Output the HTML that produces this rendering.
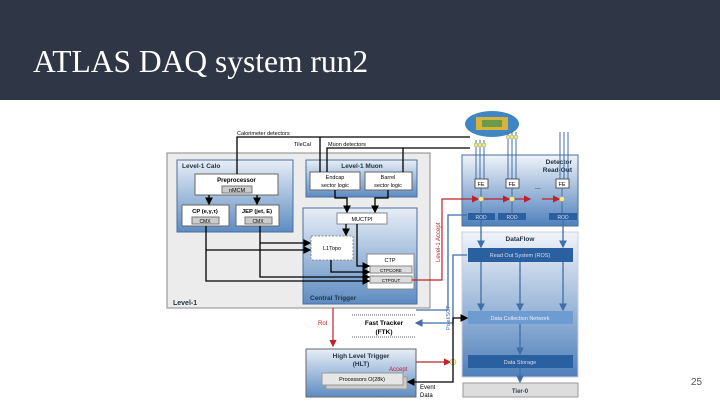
<!DOCTYPE html>
<html><head><meta charset="utf-8"><style>
body{margin:0;width:720px;height:405px;overflow:hidden;background:#fff;font-family:"Liberation Sans",sans-serif}
#hdr{position:absolute;left:0;top:0;width:720px;height:100px;background:#2f3646}
#hdr span{position:absolute;left:33px;top:44px;font-family:"Liberation Serif",serif;font-size:31.5px;color:#fff}
#pg{position:absolute;left:691px;top:377px;font-size:10px;color:#555}
svg{position:absolute;left:0;top:0}
</style></head><body>
<div id="hdr"><span>ATLAS DAQ system run2</span></div>
<svg width="720" height="405" font-family="Liberation Sans, sans-serif">
<defs>
<linearGradient id="bg" x1="0" y1="0" x2="0" y2="1"><stop offset="0" stop-color="#e8eef6"/><stop offset="1" stop-color="#5d8cc2"/></linearGradient>
<linearGradient id="bg2" x1="0" y1="0" x2="0" y2="1"><stop offset="0" stop-color="#f0f4fa"/><stop offset="1" stop-color="#4f80bb"/></linearGradient>
<marker id="a" markerWidth="6" markerHeight="6" refX="5" refY="3" orient="auto"><path d="M0,0L6,3L0,6z" fill="#000"/></marker>
<marker id="r" markerWidth="6" markerHeight="6" refX="5" refY="3" orient="auto"><path d="M0,0L6,3L0,6z" fill="#c0202a"/></marker>
<marker id="b" markerWidth="6" markerHeight="6" refX="5" refY="3" orient="auto"><path d="M0,0L6,3L0,6z" fill="#3f6ea8"/></marker>
</defs>
<rect x="167" y="153" width="263" height="155" fill="#ececec" stroke="#888"/>
<text x="173" y="305" font-size="7" font-weight="bold" fill="#234">Level-1</text>
<rect x="177" y="160" width="116" height="72" fill="url(#bg)" stroke="#4a6f9f"/>
<text x="182" y="168" font-size="6.5" font-weight="bold" fill="#234">Level-1 Calo</text>
<rect x="195" y="174" width="83" height="21" fill="#fff" stroke="#666"/>
<text x="236.5" y="182" font-size="6" font-weight="bold" text-anchor="middle">Preprocessor</text>
<rect x="222" y="186" width="30" height="7" fill="#ccc" stroke="#777"/><text x="237" y="192" font-size="5.5" text-anchor="middle">nMCM</text>
<rect x="182" y="205" width="47" height="21" fill="#fff" stroke="#666"/>
<text x="205" y="213" font-size="5.8" font-weight="bold" text-anchor="middle">CP (e,γ,τ)</text>
<rect x="192" y="217" width="27" height="7" fill="#ccc" stroke="#777"/><text x="205" y="223" font-size="5" text-anchor="middle">CMX</text>
<rect x="236" y="205" width="43" height="21" fill="#fff" stroke="#666"/>
<text x="257" y="213" font-size="5.8" font-weight="bold" text-anchor="middle">JEP (jet, E)</text>
<rect x="245" y="217" width="27" height="7" fill="#ccc" stroke="#777"/><text x="258" y="223" font-size="5" text-anchor="middle">CMX</text>
<rect x="306" y="160" width="111" height="37" fill="url(#bg)" stroke="#4a6f9f"/>
<text x="362" y="168" font-size="6.5" font-weight="bold" fill="#234" text-anchor="middle">Level-1 Muon</text>
<rect x="310" y="172" width="50" height="18" fill="#fff" stroke="#666"/>
<text x="335" y="179" font-size="5.5" text-anchor="middle">Endcap</text><text x="335" y="187" font-size="5.5" text-anchor="middle">sector logic</text>
<rect x="365" y="172" width="47" height="18" fill="#fff" stroke="#666"/>
<text x="388" y="179" font-size="5.5" text-anchor="middle">Barrel</text><text x="388" y="187" font-size="5.5" text-anchor="middle">sector logic</text>
<rect x="303" y="208" width="114" height="96" fill="url(#bg)" stroke="#4a6f9f"/>
<text x="310" y="300" font-size="6.5" font-weight="bold" fill="#234">Central Trigger</text>
<rect x="337" y="213" width="50" height="11" fill="#fff" stroke="#888"/><text x="362" y="221" font-size="5.5" text-anchor="middle">MUCTPI</text>
<rect x="311" y="236" width="42" height="24" fill="#fff" stroke="#888" stroke-dasharray="2,1.5"/><text x="332" y="250" font-size="5.5" text-anchor="middle">L1Topo</text>
<rect x="367" y="254" width="47" height="35" fill="#fff" stroke="#888"/>
<text x="390" y="262" font-size="5.5" text-anchor="middle">CTP</text>
<rect x="370" y="266" width="42" height="7" fill="#ddd" stroke="#888"/><text x="391" y="272" font-size="4.5" text-anchor="middle">CTPCORE</text>
<rect x="370" y="276" width="42" height="7" fill="#ddd" stroke="#888"/><text x="391" y="282" font-size="4.5" text-anchor="middle">CTPOUT</text>
<g stroke="#000" stroke-width="1.3" fill="none">
<path d="M237,174V137H470"/><path d="M320,172V137"/><path d="M327,172V148H470"/><path d="M403,172V148"/>
<path d="M209,195V204" marker-end="url(#a)"/><path d="M257,195V204" marker-end="url(#a)"/>
<path d="M335,190V198H347V212" marker-end="url(#a)"/><path d="M388,190V198H375V212" marker-end="url(#a)"/>
<path d="M346,224V235" marker-end="url(#a)"/><path d="M357,224V266H369" marker-end="url(#a)"/>
<path d="M331,260V272H369" marker-end="url(#a)"/>
<path d="M206,226V281H369" marker-end="url(#a)"/><path d="M206,250H310" marker-end="url(#a)"/>
<path d="M260,226V277H369" marker-end="url(#a)"/><path d="M260,243H310" marker-end="url(#a)"/>
</g>
<text x="237" y="135" font-size="5.5">Calorimeter detectors</text>
<text x="294" y="146" font-size="5.5">TileCal</text>
<text x="328" y="146" font-size="5.5">Muon detectors</text>
<ellipse cx="492" cy="124" rx="27" ry="13" fill="#3f86c4"/>
<rect x="476" y="117" width="32" height="13" fill="#d9b23a"/>
<rect x="482" y="120" width="20" height="7" fill="#6a9b4b"/>
<rect x="462" y="155" width="116" height="71" fill="url(#bg2)" stroke="#4a6f9f"/>
<text x="572" y="164" font-size="6.5" font-weight="bold" fill="#234" text-anchor="end">Detector</text>
<text x="572" y="172" font-size="6.5" font-weight="bold" fill="#234" text-anchor="end">Read-Out</text>
<g stroke="#3f6ea8" stroke-width="1">
<path d="M476,140V179M480,140V179M484,140V179M508,132V179M512,132V179M516,132V179M560,132V179M564,132V179M568,132V179"/>
</g>
<g fill="#fff" stroke="#555"><rect x="475" y="179" width="13" height="9"/><rect x="506" y="179" width="13" height="9"/><rect x="556" y="179" width="13" height="9"/></g>
<g font-size="5.5" text-anchor="middle"><text x="481" y="186">FE</text><text x="512" y="186">FE</text><text x="562" y="186">FE</text></g>
<text x="535" y="189" font-size="7">...</text>
<g stroke="#3f6ea8"><path d="M481,188V213M512,188V213M562,188V213"/></g>
<g fill="#2a5fa0"><rect x="468" y="213" width="27" height="7"/><rect x="498" y="213" width="28" height="7"/><rect x="549" y="213" width="28" height="7"/></g>
<g font-size="5" fill="#dde" text-anchor="middle"><text x="481" y="219">ROD</text><text x="512" y="219">ROD</text><text x="563" y="219">ROD</text></g>
<rect x="462" y="232" width="116" height="145" fill="url(#bg2)" stroke="#ccd"/>
<text x="520" y="241" font-size="6.5" font-weight="bold" fill="#234" text-anchor="middle">DataFlow</text>
<rect x="468" y="248" width="105" height="14" fill="#2a5fa0"/><text x="520" y="257" font-size="5.5" fill="#dde" text-anchor="middle">Read Out System (ROS)</text>
<rect x="468" y="311" width="105" height="13" fill="#6e9bd0"/><text x="520" y="320" font-size="5.5" fill="#eef" text-anchor="middle">Data Collection Network</text>
<rect x="468" y="355" width="105" height="13" fill="#2a5fa0"/><text x="520" y="364" font-size="5.5" fill="#dde" text-anchor="middle">Data Storage</text>
<rect x="463" y="383" width="115" height="14" fill="#ddd" stroke="#999"/><text x="520" y="393" font-size="6" font-weight="bold" fill="#345" text-anchor="middle">Tier-0</text>
<g stroke="#3f6ea8" stroke-width="1.3" fill="none">
<path d="M481,220V247" marker-end="url(#b)"/><path d="M563,220V247" marker-end="url(#b)"/>
<path d="M481,262V310" marker-end="url(#b)"/><path d="M520,262V310" marker-end="url(#b)"/><path d="M563,262V310" marker-end="url(#b)"/>
<path d="M520,324V354" marker-end="url(#b)"/><path d="M520,368V382" marker-end="url(#b)"/>
<path d="M467,215H448V310H416"/><path d="M467,255H453V323H416" marker-end="url(#b)"/>
</g>
<g stroke="#c0202a" stroke-width="1.2" fill="none">
<path d="M412,280H442V199H478" marker-end="url(#r)"/><path d="M484,199H509" marker-end="url(#r)"/><path d="M515,199H530" marker-end="url(#r)"/><path d="M542,199H559" marker-end="url(#r)"/>
<path d="M333,308V346" marker-end="url(#r)"/>
<path d="M387,372V362H450" marker-end="url(#r)"/>
</g>
<g fill="#f4ef7a" stroke="#999" stroke-width=".5"><circle cx="481" cy="199" r="2.5"/><circle cx="512" cy="199" r="2.5"/><circle cx="562" cy="199" r="2.5"/><circle cx="453" cy="362" r="3"/>
<circle cx="476" cy="145" r="2"/><circle cx="480" cy="145" r="2"/><circle cx="484" cy="145" r="2"/><circle cx="508" cy="137" r="2"/><circle cx="512" cy="137" r="2"/><circle cx="516" cy="137" r="2"/></g>
<text transform="translate(440,262) rotate(-90)" font-size="6" fill="#c0202a">Level-1 Accept</text>
<text transform="translate(450,330) rotate(-90)" font-size="5.5" fill="#3f6ea8">Pixel/SCT</text>
<text x="318" y="325" font-size="6" fill="#c0202a">RoI</text>
<path d="M352,315H415M352,337H415" stroke="#666" stroke-dasharray="1,1"/>
<text x="384" y="325" font-size="6.5" font-weight="bold" text-anchor="middle">Fast Tracker</text>
<text x="384" y="334" font-size="6.5" font-weight="bold" text-anchor="middle">(FTK)</text>
<rect x="306" y="349" width="110" height="48" fill="url(#bg)" stroke="#666"/>
<text x="361" y="358" font-size="6.5" font-weight="bold" fill="#234" text-anchor="middle">High Level Trigger</text>
<text x="361" y="366" font-size="6.5" font-weight="bold" fill="#234" text-anchor="middle">(HLT)</text>
<rect x="326" y="377" width="81" height="12" fill="#ccc" stroke="#999"/>
<rect x="322" y="373" width="81" height="12" fill="#e6e6e6" stroke="#999"/>
<text x="362" y="381" font-size="5.5" text-anchor="middle">Processors O(28k)</text>
<text x="389" y="371" font-size="6" fill="#c0202a">Accept</text>
<g stroke="#000" stroke-width="1.3" fill="none"><path d="M453,362V318H467" marker-end="url(#a)"/><path d="M453,362V382H408" marker-end="url(#a)"/></g>
<text x="420" y="389" font-size="6">Event</text><text x="420" y="397" font-size="6">Data</text>
</svg>
<div id="pg">25</div>
</body></html>
